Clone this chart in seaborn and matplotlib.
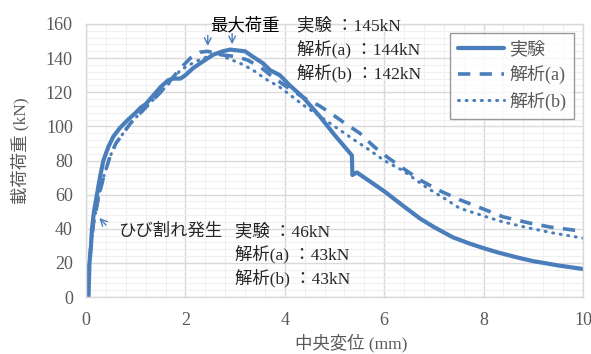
import numpy as np
import pandas as pd
import matplotlib
matplotlib.use("Agg")
import matplotlib.pyplot as plt
from matplotlib.ticker import MultipleLocator
import seaborn as sns

# 実験 (measured load–deflection curve)
exp_x = [0.05, 0.06, 0.07, 0.10, 0.12, 0.16, 0.22, 0.28, 0.35, 0.45, 0.55, 0.68,
         0.85, 1.00, 1.10, 1.20, 1.35, 1.50, 1.65, 1.75, 1.90, 2.00, 2.15, 2.35,
         2.56, 2.75, 2.90, 3.05, 3.20, 3.35, 3.56, 3.70, 3.90, 4.10, 4.37, 4.70,
         5.00, 5.35, 5.36, 5.45, 5.60, 6.00, 6.40, 6.72, 7.00, 7.38, 7.70, 7.99,
         8.30, 8.73, 9.00, 9.50, 10.00]
exp_y = [0, 10, 20, 30, 40, 50, 60, 70, 80, 88, 94, 99,
         104, 108, 111, 113, 118, 123, 127, 128, 128, 130, 134, 138,
         142, 144, 145, 144.5, 144, 141, 137, 133, 130, 124, 117, 106,
         95, 83, 71.5, 73, 70, 62, 53, 46, 41, 35, 31.5, 28.7,
         26, 22.8, 21, 18.5, 16.4]

# 解析(a)
a_x = [0.0, 0.05, 0.10, 0.15, 0.25, 0.35, 0.48, 0.60, 0.75, 0.90, 1.10, 1.30,
       1.50, 1.70, 1.90, 2.10, 2.30, 2.45, 2.70, 3.00, 3.24, 3.50, 3.80, 4.10,
       4.37, 4.70, 4.91, 5.20, 5.51, 5.80, 6.06, 6.40, 6.72, 7.10, 7.52, 8.00,
       8.39, 8.90, 9.34, 10.00]
a_y = [0, 15, 30, 43, 58, 70, 82, 90, 96, 102, 108, 114,
       120, 127, 134, 140, 143.5, 144, 142, 141, 139, 135, 128, 122,
       117, 112, 108, 102, 96, 88, 82, 75, 68.6, 62.5, 57, 51.5,
       47, 43.5, 41, 38.5]

# 解析(b)
b_x = [0.0, 0.05, 0.10, 0.15, 0.25, 0.35, 0.48, 0.60, 0.75, 0.90, 1.10, 1.30,
       1.50, 1.70, 1.90, 2.20, 2.50, 2.70, 2.84, 3.10, 3.36, 3.60, 3.90, 4.37,
       4.70, 5.05, 5.40, 5.71, 6.00, 6.38, 6.86, 7.20, 7.52, 8.00, 8.39, 8.90,
       9.40, 10.00]
b_y = [0, 15, 30, 43, 58, 70, 82, 90, 96, 102, 108, 114,
       120, 126, 133, 138, 141.5, 142, 140, 137, 133, 128, 123, 112.5,
       106, 99, 92, 86, 80, 74, 64, 58, 52, 47.5, 44, 40.5,
       37.5, 34.5]

series_names = ["実験", "解析(a)", "解析(b)"]
max_text = ["実験 ：145kN", "解析(a) ：144kN", "解析(b) ：142kN"]
crack_text = ["実験 ：46kN", "解析(a) ：43kN", "解析(b) ：43kN"]

sns.set_theme(style="white")
plt.rcParams["font.family"] = ["Liberation Serif", "Noto Sans CJK JP", "DejaVu Sans"]

blue = "#4a7ebb"
frames = [
    pd.DataFrame({"x": exp_x, "y": exp_y}),
    pd.DataFrame({"x": a_x, "y": a_y}),
    pd.DataFrame({"x": b_x, "y": b_y}),
]

fig = plt.figure(figsize=(5.91, 3.54), dpi=100)
ax = fig.add_axes([86 / 591, 1 - 297 / 354, (583 - 86) / 591, (297 - 24) / 354])

styles = [dict(lw=3.0, ls="-"),
          dict(lw=2.6, ls=(0, (3.4, 2.6))),
          dict(lw=2.2, ls=(0, (0.3, 2.2)), dash_capstyle="round")]
for df, name, st in zip(frames, series_names, styles):
    sns.lineplot(data=df, x="x", y="y", ax=ax, sort=False, estimator=None,
                 color=blue, label=name, **st)

ax.set_xlim(0, 10)
ax.set_ylim(0, 160)
ax.xaxis.set_major_locator(MultipleLocator(2))
ax.xaxis.set_minor_locator(MultipleLocator(0.4))
ax.yaxis.set_major_locator(MultipleLocator(20))
ax.yaxis.set_minor_locator(MultipleLocator(4))
ax.grid(which="major", color="#d9d9d9", lw=1.0)
ax.grid(which="minor", color="#f0f0f0", lw=0.8)
ax.set_axisbelow(True)
for s in ax.spines.values():
    s.set_color("#d9d9d9")
    s.set_linewidth(1.0)
ax.tick_params(which="both", length=0, labelsize=13, colors="#595959")
ax.tick_params(axis="x", pad=11)
ax.tick_params(axis="y", pad=9.5)

ax.set_xlabel("中央変位 (mm)", fontsize=12.5, color="#595959")
ax.set_ylabel("載荷荷重 (kN)", fontsize=12.5, color="#595959")
ax.xaxis.set_label_coords(0.534, -0.136)
ax.yaxis.set_label_coords(-0.113, 0.535)

leg = ax.legend(loc="upper right", bbox_to_anchor=(0.982, 0.967), borderaxespad=0,
                fontsize=13, frameon=True, fancybox=False, handlelength=2.5,
                handletextpad=0.3, borderpad=0.45, labelspacing=0.4)
leg.get_frame().set_edgecolor("#808080")
leg.get_frame().set_linewidth(1.0)
for t in leg.get_texts():
    t.set_color("#595959")

# 最大荷重 annotation
fs = 12.5
ax.text(2.49, 158.8, "最大荷重", fontsize=fs, ha="left", va="center", color="black")
ax.text(4.25, 158.8, max_text[0], fontsize=fs, ha="left", va="center")
ax.text(4.25, 145.5, max_text[1], fontsize=fs, ha="left", va="center")
ax.text(4.25, 131.3, max_text[2], fontsize=fs, ha="left", va="center")
for ax_x, peak in [(2.45, 144), (2.94, 145)]:
    ax.annotate("", xy=(ax_x, peak + 1.5), xytext=(ax_x, peak + 11),
                arrowprops=dict(arrowstyle="->", color=blue, lw=1.0))

# ひび割れ発生 annotation
ax.text(0.64, 38.1, "ひび割れ発生", fontsize=fs, ha="left", va="center")
ax.text(3.0, 38.1, crack_text[0], fontsize=fs, ha="left", va="center")
ax.text(3.0, 25.2, crack_text[1], fontsize=fs, ha="left", va="center")
ax.text(3.0, 10.8, crack_text[2], fontsize=fs, ha="left", va="center")
ax.annotate("", xy=(0.23, 47.5), xytext=(0.44, 41),
            arrowprops=dict(arrowstyle="->", color=blue, lw=1.0))

fig.savefig("out.png", dpi=100)
